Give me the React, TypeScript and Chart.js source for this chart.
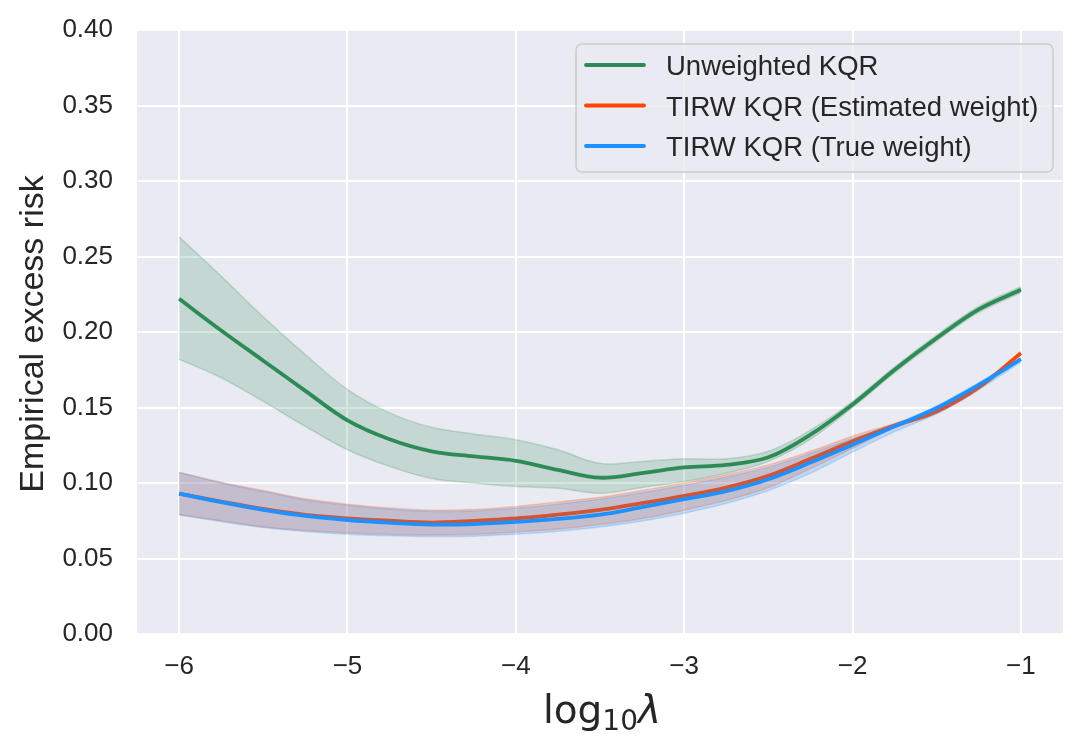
import { useEffect, useRef } from "react"
import { Chart, registerables } from "chart.js"

Chart.register(...registerables)

// log10(lambda) grid
const logLambda = [-6, -5.75, -5.5, -5.25, -5, -4.75, -4.5, -4.25, -4, -3.75, -3.5, -3.25, -3, -2.75, -2.5, -2.25, -2, -1.75, -1.5, -1.25, -1]

// Unweighted KQR
const unweighted = [0.222, 0.201, 0.181, 0.161, 0.1415, 0.129, 0.121, 0.1176, 0.1147, 0.1087, 0.1035, 0.1065, 0.1103, 0.112, 0.117, 0.132, 0.152, 0.175, 0.196, 0.215, 0.228]
const unweightedUpper = [0.263, 0.237, 0.21, 0.185, 0.162, 0.1464, 0.1369, 0.1325, 0.1287, 0.122, 0.113, 0.1143, 0.116, 0.116, 0.121, 0.135, 0.154, 0.177, 0.198, 0.217, 0.23]
const unweightedLower = [0.182, 0.1697, 0.154, 0.1375, 0.122, 0.111, 0.103, 0.1, 0.0977, 0.0966, 0.0932, 0.097, 0.101, 0.1065, 0.1143, 0.129, 0.15, 0.173, 0.194, 0.213, 0.226]

// TIRW KQR (Estimated weight)
const estimated = [0.093, 0.0877, 0.0828, 0.0789, 0.0766, 0.075, 0.0738, 0.0749, 0.0765, 0.079, 0.0822, 0.0866, 0.0915, 0.097, 0.1048, 0.116, 0.1276, 0.138, 0.1475, 0.1634, 0.186]
const estimatedUpper = [0.107, 0.1005, 0.095, 0.0895, 0.086, 0.0835, 0.082, 0.0825, 0.0845, 0.0875, 0.0905, 0.095, 0.1, 0.1055, 0.112, 0.121, 0.131, 0.1395, 0.149, 0.165, 0.187]
const estimatedLower = [0.079, 0.075, 0.071, 0.0685, 0.067, 0.066, 0.0655, 0.066, 0.0675, 0.0695, 0.0725, 0.0765, 0.082, 0.0885, 0.097, 0.1095, 0.123, 0.1365, 0.146, 0.162, 0.185]

// TIRW KQR (True weight)
const trueWeight = [0.093, 0.0873, 0.0822, 0.0782, 0.0755, 0.0737, 0.0725, 0.0728, 0.0742, 0.0762, 0.079, 0.084, 0.0893, 0.0946, 0.1025, 0.1135, 0.1254, 0.1375, 0.1497, 0.165, 0.182]
const trueUpper = [0.107, 0.1, 0.0943, 0.0888, 0.0852, 0.0826, 0.0812, 0.0815, 0.0833, 0.086, 0.0892, 0.0935, 0.0985, 0.104, 0.1105, 0.1195, 0.1295, 0.139, 0.151, 0.1665, 0.183]
const trueLower = [0.079, 0.0745, 0.0705, 0.0678, 0.066, 0.065, 0.0645, 0.0648, 0.066, 0.068, 0.0708, 0.0748, 0.08, 0.0865, 0.095, 0.1065, 0.1205, 0.134, 0.146, 0.162, 0.18]

const xTicks = [-6, -5, -4, -3, -2, -1]
const yTicks = [0, 0.05, 0.1, 0.15, 0.2, 0.25, 0.3, 0.35, 0.4]

const seriesNames = ["Unweighted KQR", "TIRW KQR (Estimated weight)", "TIRW KQR (True weight)"]
const seriesColors = ["46, 139, 87", "255, 69, 0", "30, 144, 255"]

const TEXT = "#262626"
const SANS = '"Liberation Sans", Arial, sans-serif'

const pts = (ys: number[]) => logLambda.map((x, i) => ({ x, y: ys[i] }))

const bandAndLine = (mean: number[], upper: number[], lower: number[], k: number) => {
  const rgb = seriesColors[k]
  return [
    {
      label: seriesNames[k] + " upper",
      data: pts(upper),
      borderColor: `rgba(${rgb}, 0.22)`,
      borderWidth: 1.5,
      fill: false,
    },
    {
      label: seriesNames[k] + " lower",
      data: pts(lower),
      borderColor: `rgba(${rgb}, 0.22)`,
      borderWidth: 1.5,
      backgroundColor: `rgba(${rgb}, 0.2)`,
      fill: "-1",
    },
    {
      label: seriesNames[k],
      data: pts(mean),
      borderColor: `rgb(${rgb})`,
      borderWidth: 3.8,
      fill: false,
    },
  ]
}

const plotBackground = {
  id: "plotBackground",
  beforeDraw(chart: any) {
    const { ctx, chartArea: a } = chart
    ctx.save()
    ctx.fillStyle = "#EAEAF2"
    ctx.fillRect(a.left, a.top, a.right - a.left, a.bottom - a.top)
    ctx.restore()
  },
}

const decorations = {
  id: "decorations",
  afterDraw(chart: any) {
    const { ctx, chartArea: a } = chart
    ctx.save()

    // y axis title
    ctx.fillStyle = TEXT
    ctx.font = `34px ${SANS}`
    ctx.textAlign = "center"
    ctx.textBaseline = "alphabetic"
    ctx.translate(43, (a.top + a.bottom) / 2 + 2)
    ctx.rotate(-Math.PI / 2)
    ctx.fillText("Empirical excess risk", 0, 0)
    ctx.setTransform(1, 0, 0, 1, 0, 0)
    ctx.scale(chart.currentDevicePixelRatio, chart.currentDevicePixelRatio)

    // x axis title: log_10 lambda
    const big = '39px "DejaVu Sans", sans-serif'
    const small = '28px "DejaVu Sans", sans-serif'
    const ital = 'oblique 39px "DejaVu Sans", sans-serif'
    ctx.textAlign = "left"
    ctx.font = big
    const w1 = ctx.measureText("log").width
    ctx.font = small
    const w2 = ctx.measureText("10").width
    ctx.font = ital
    const w3 = ctx.measureText("λ").width
    let x = 602 - (w1 + w2 + w3) / 2
    const base = 723
    ctx.font = big
    ctx.fillText("log", x, base)
    x += w1
    ctx.font = small
    ctx.fillText("10", x, base + 7)
    x += w2
    ctx.font = ital
    ctx.fillText("λ", x, base)

    // legend
    const lx = 576, ly = 44, lw = 477, lh = 128
    ctx.beginPath()
    ctx.roundRect(lx, ly, lw, lh, 6)
    ctx.fillStyle = "rgba(234, 234, 242, 0.8)"
    ctx.fill()
    ctx.strokeStyle = "#CCCCCC"
    ctx.lineWidth = 1.5
    ctx.stroke()
    ctx.font = `27.5px ${SANS}`
    seriesNames.forEach((name, i) => {
      const y = 65 + i * 40.5
      ctx.beginPath()
      ctx.moveTo(586, y)
      ctx.lineTo(644, y)
      ctx.strokeStyle = `rgb(${seriesColors[i]})`
      ctx.lineWidth = 3.8
      ctx.lineCap = "round"
      ctx.stroke()
      ctx.fillStyle = TEXT
      ctx.fillText(name, 666, y + 10)
    })
    ctx.restore()
  },
}

export default function App() {
  const chartRef = useRef<HTMLCanvasElement>(null)
  const chartInstance = useRef<Chart | null>(null)

  useEffect(() => {
    document.body.style.margin = "0"
    if (!chartRef.current) return
    if (chartInstance.current) chartInstance.current.destroy()
    const ctx = chartRef.current.getContext("2d")
    if (!ctx) return

    const datasets: any[] = [
      ...bandAndLine(unweighted, unweightedUpper, unweightedLower, 0),
      ...bandAndLine(estimated, estimatedUpper, estimatedLower, 1),
      ...bandAndLine(trueWeight, trueUpper, trueLower, 2),
    ].map((d, i, all) => ({ ...d, order: all.length - i }))

    chartInstance.current = new Chart(ctx, {
      type: "line",
      data: { datasets },
      options: {
        animation: false,
        responsive: true,
        maintainAspectRatio: false,
        elements: {
          point: { radius: 0, hoverRadius: 0 },
          line: { tension: 0.35 },
        },
        layout: { padding: { top: 30, right: 22, left: 0, bottom: 0 } },
        plugins: {
          legend: { display: false },
          tooltip: { enabled: false },
        },
        scales: {
          x: {
            type: "linear",
            min: -6.25,
            max: -0.75,
            afterBuildTicks: (axis: any) => {
              axis.ticks = xTicks.map((value) => ({ value }))
            },
            afterFit: (axis: any) => {
              axis.height = 120
              axis.paddingLeft = 0
              axis.paddingRight = 0
            },
            grid: { color: "#FFFFFF", lineWidth: 2, drawTicks: false },
            border: { display: false },
            ticks: {
              padding: 17,
              color: TEXT,
              font: { family: SANS, size: 26 },
              callback: (v: any) => String(v).replace("-", "\u2212"),
            },
          },
          y: {
            min: 0,
            max: 0.4,
            afterBuildTicks: (axis: any) => {
              axis.ticks = yTicks.map((value) => ({ value }))
            },
            afterFit: (axis: any) => {
              axis.width = 137
              axis.paddingTop = 0
              axis.paddingBottom = 0
            },
            grid: { color: "#FFFFFF", lineWidth: 2, drawTicks: false },
            border: { display: false },
            ticks: {
              padding: 24,
              color: TEXT,
              font: { family: SANS, size: 26 },
              callback: (v: any) => Number(v).toFixed(2),
            },
          },
        },
      },
      plugins: [plotBackground, decorations],
    })

    return () => {
      if (chartInstance.current) {
        chartInstance.current.destroy()
        chartInstance.current = null
      }
    }
  }, [])

  return (
    <div style={{ width: 1085, height: 754, background: "#FFFFFF" }}>
      <canvas ref={chartRef} />
    </div>
  )
}
